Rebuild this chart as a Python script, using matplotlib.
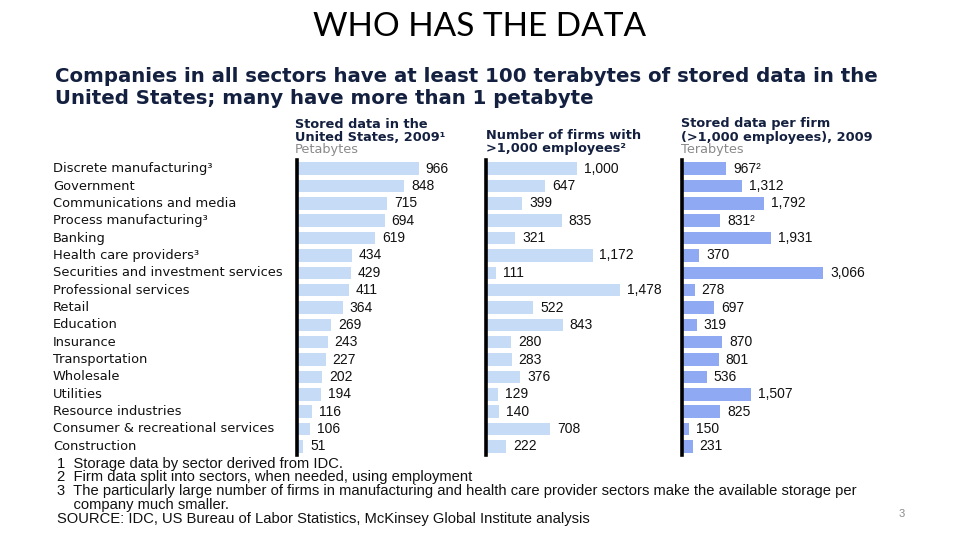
import matplotlib
matplotlib.use("Agg")
import matplotlib.pyplot as plt
from matplotlib.transforms import blended_transform_factory

# data
sectors = ["Discrete manufacturing³", "Government", "Communications and media",
           "Process manufacturing³", "Banking", "Health care providers³",
           "Securities and investment services", "Professional services",
           "Retail", "Education", "Insurance", "Transportation", "Wholesale",
           "Utilities", "Resource industries",
           "Consumer & recreational services", "Construction"]
stored_pb = [966, 848, 715, 694, 619, 434, 429, 411, 364, 269, 243, 227, 202,
             194, 116, 106, 51]
n_firms = [1000, 647, 399, 835, 321, 1172, 111, 1478, 522, 843, 280, 283, 376,
           129, 140, 708, 222]
per_firm_tb = [967, 1312, 1792, 831, 1931, 370, 3066, 278, 697, 319, 870, 801,
               536, 1507, 825, 150, 231]
per_firm_notes = {0: "²", 3: "²"}

footnotes = ["1  Storage data by sector derived from IDC.",
             "2  Firm data split into sectors, when needed, using employment",
             "3  The particularly large number of firms in manufacturing and health care provider sectors make the available storage per",
             "    company much smaller."]
source = "SOURCE: IDC, US Bureau of Labor Statistics, McKinsey Global Institute analysis"

W, H = 960, 540
plt.rcParams['font.family'] = ['Liberation Sans', 'DejaVu Sans']
fig = plt.figure(figsize=(W / 100, H / 100), dpi=100)
fig.patch.set_facecolor("white")

def fx(x):
    return x / W

def fy(y):
    return 1 - y / H

navy = "#14203f"
light = "#c6dcf6"
mid = "#8faaf2"
wide = ["DejaVu Sans"]

fig.text(0.5, fy(27), "WHO HAS THE DATA", family="Lato", fontsize=24,
         ha="center", va="center", color="black")
fig.text(fx(55), fy(77), "Companies in all sectors have at least 100 terabytes of stored data in the",
         family=wide, fontsize=14.2, fontweight="bold", color=navy, va="center")
fig.text(fx(55), fy(98), "United States; many have more than 1 petabyte",
         family=wide, fontsize=14.2, fontweight="bold", color=navy, va="center")

# column headers
hdr = dict(family=wide, fontsize=9.3, fontweight="bold", color=navy, va="center")
grey = dict(family=wide, fontsize=9.3, color="#8a8a8a", va="center")
fig.text(fx(295), fy(124), "Stored data in the", **hdr)
fig.text(fx(295), fy(137), "United States, 2009¹", **hdr)
fig.text(fx(295), fy(150), "Petabytes", **grey)
fig.text(fx(486), fy(136), "Number of firms with", **hdr)
fig.text(fx(486), fy(148), ">1,000 employees²", **hdr)
fig.text(fx(681), fy(124), "Stored data per firm", **hdr)
fig.text(fx(681), fy(137), "(>1,000 employees), 2009", **hdr)
fig.text(fx(681), fy(150), "Terabytes", **grey)

top, bottom = 160, 455
panels = [(297, 183, 1450, stored_pb, light, {}),
          (486, 190, 2090, n_firms, light, {}),
          (682, 230, 5000, per_firm_tb, mid, per_firm_notes)]
rows = list(range(len(sectors)))
axes = []
for left, width, xmax, vals, col, notes in panels:
    ax = fig.add_axes([fx(left), fy(bottom), width / W, (bottom - top) / H])
    ax.barh(rows, vals, height=0.72, color=col, left=0)
    ax.set_xlim(0, xmax)
    ax.set_ylim(len(sectors) - 0.5, -0.5)
    for s in ["top", "right", "bottom"]:
        ax.spines[s].set_visible(False)
    ax.spines["left"].set_linewidth(2.6)
    ax.spines["left"].set_color("black")
    ax.set_xticks([])
    ax.set_yticks([])
    ax.patch.set_alpha(0)
    for i, v in enumerate(vals):
        ax.annotate(f"{v:,}" + notes.get(i, ""), (v, i), xytext=(5, 0),
                    textcoords="offset points", va="center", ha="left",
                    fontsize=10, color="#111111")
    axes.append(ax)

tr = blended_transform_factory(fig.transFigure, axes[0].transData)
for i, name in enumerate(sectors):
    axes[0].text(fx(53), i, name, transform=tr, family=wide, fontsize=9.4,
                 va="center", ha="left", color="#111111")

for k, line in enumerate(footnotes):
    fig.text(fx(57), fy(464 + 13.5 * k), line, fontsize=10.6, va="center",
             color="#111111")
fig.text(fx(57), fy(519), source, fontsize=10.6, va="center", color="#111111")
fig.text(fx(902), fy(514), "3", fontsize=8, color="#8a8a8a", va="center",
         ha="center")

fig.savefig("out.png", dpi=100)
